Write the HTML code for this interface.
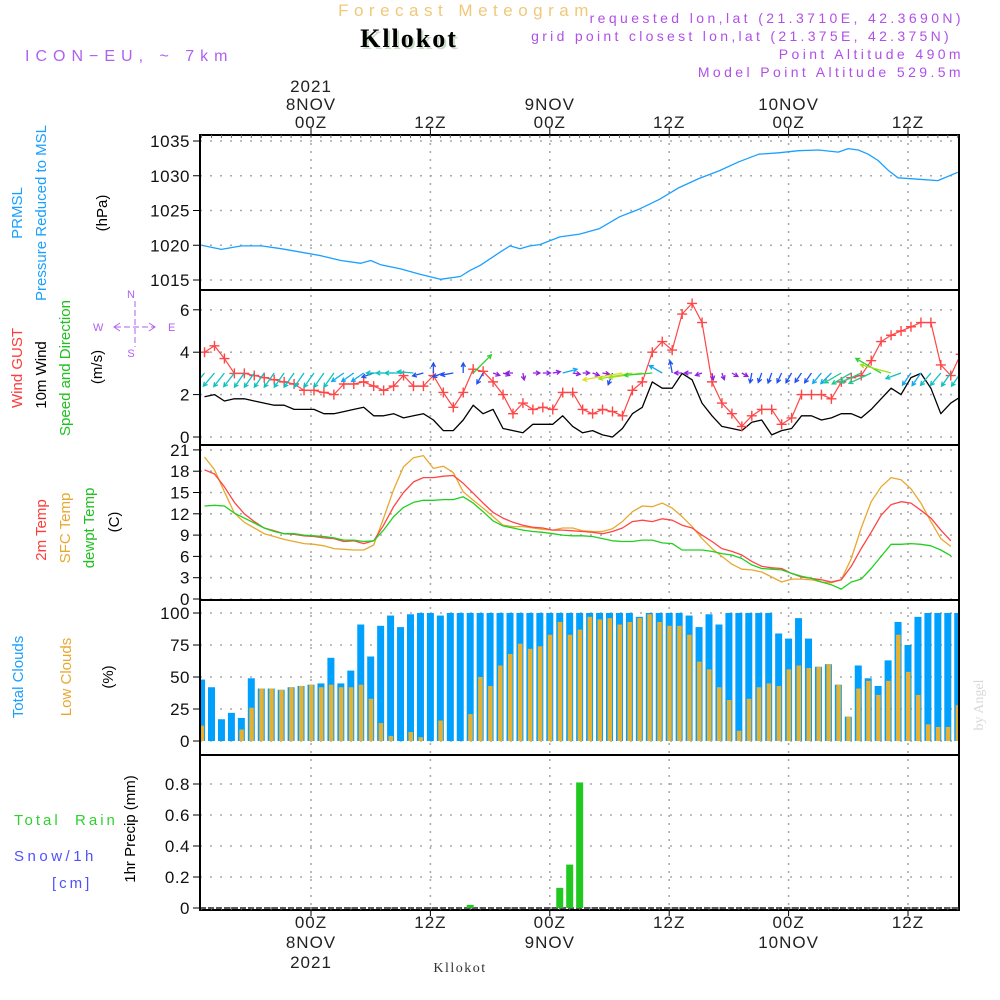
<!DOCTYPE html>
<html><head><meta charset="utf-8"><title>Meteogram Kllokot</title>
<style>
html,body{margin:0;padding:0;background:#fff;width:1000px;height:1000px;overflow:hidden}
svg{display:block}
text{font-family:"Liberation Sans",sans-serif}
</style></head>
<body>
<svg id="chart" width="1000" height="1000" viewBox="0 0 1000 1000" xmlns="http://www.w3.org/2000/svg">
<defs>
<clipPath id="cp"><rect x="200" y="135" width="760" height="775"/></clipPath>
</defs>
<g>
<text x="466" y="16" text-anchor="middle" font-size="17" fill="#f0c878" letter-spacing="5.5">Forecast Meteogram</text>
<text x="411" y="49" text-anchor="middle" font-size="26" font-weight="bold" style="font-family:'Liberation Serif',serif" fill="#c8dcc8" letter-spacing="2">Kllokot</text>
<text x="409" y="47" text-anchor="middle" font-size="26" font-weight="bold" style="font-family:'Liberation Serif',serif" fill="#000" letter-spacing="2">Kllokot</text>
<text x="25" y="61" font-size="16" fill="#b060f0" letter-spacing="6">ICON−EU, ~ 7km</text>
<text x="964" y="23" text-anchor="end" font-size="14" fill="#b050e8" letter-spacing="3.4">requested lon,lat (21.3710E, 42.3690N)</text>
<text x="952" y="41" text-anchor="end" font-size="14" fill="#b050e8" letter-spacing="3.3">grid point closest lon,lat (21.375E, 42.375N)</text>
<text x="964" y="59" text-anchor="end" font-size="14" fill="#b050e8" letter-spacing="3.4">Point Altitude 490m</text>
<text x="964" y="77" text-anchor="end" font-size="14" fill="#b050e8" letter-spacing="3.4">Model Point Altitude 529.5m</text>
</g>
<g id="labels" font-size="15">
<text transform="translate(22,213) rotate(-90)" text-anchor="middle" fill="#1aa0ff">PRMSL</text>
<text transform="translate(46,213) rotate(-90)" text-anchor="middle" fill="#1aa0ff">Pressure Reduced to MSL</text>
<text transform="translate(107,213) rotate(-90)" text-anchor="middle" fill="#000">(hPa)</text>
<text transform="translate(22,368) rotate(-90)" text-anchor="middle" fill="#ff3b3b">Wind GUST</text>
<text transform="translate(46,375) rotate(-90)" text-anchor="middle" fill="#000">10m Wind</text>
<text transform="translate(70,368) rotate(-90)" text-anchor="middle" fill="#20c020">Speed and Direction</text>
<text transform="translate(102,367) rotate(-90)" text-anchor="middle" fill="#000">(m/s)</text>
<g fill="#b060f0" stroke="#b060f0" font-size="11">
<text x="93" y="331" stroke="none">W</text>
<text x="168" y="331" stroke="none">E</text>
<text x="131" y="298" stroke="none" text-anchor="middle">N</text>
<text x="131" y="357" stroke="none" text-anchor="middle">S</text>
<line x1="115" y1="327" x2="155" y2="327" stroke-dasharray="6,3"/>
<line x1="135" y1="301" x2="135" y2="347" stroke-dasharray="6,3"/>
<polyline points="120,323 114,327 120,331" fill="none"/>
<polyline points="149,323 155,327 149,331" fill="none"/>
</g>
<text transform="translate(46,530) rotate(-90)" text-anchor="middle" fill="#ff3b3b">2m Temp</text>
<text transform="translate(70,528) rotate(-90)" text-anchor="middle" fill="#e8a830">SFC Temp</text>
<text transform="translate(94,528) rotate(-90)" text-anchor="middle" fill="#20c020">dewpt Temp</text>
<text transform="translate(119,522) rotate(-90)" text-anchor="middle" fill="#000">(C)</text>
<text transform="translate(23,677) rotate(-90)" text-anchor="middle" fill="#1aa0ff">Total Clouds</text>
<text transform="translate(71,677) rotate(-90)" text-anchor="middle" fill="#e8a830">Low Clouds</text>
<text transform="translate(113,677) rotate(-90)" text-anchor="middle" fill="#000">(%)</text>
<text x="14" y="825" fill="#30d030" letter-spacing="3" xml:space="preserve">Total  Rain</text>
<text x="14" y="861" fill="#5050ff" letter-spacing="3.5">Snow/1h</text>
<text x="52" y="888" fill="#5050ff" letter-spacing="3">[cm]</text>
<text transform="translate(135,829) rotate(-90)" text-anchor="middle" fill="#000">1hr Precip (mm)</text>
<text transform="translate(983,705) rotate(-90)" text-anchor="middle" font-size="14" style="font-family:'Liberation Serif',serif" fill="#d8d8d8">by Angel</text>
<text x="460" y="972" text-anchor="middle" font-size="14" style="font-family:'Liberation Serif',serif" fill="#333" letter-spacing="1.5">Kllokot</text>
</g>
<g id="grid"></g>
<g id="marks" clip-path="url(#cp)"></g>
<g id="frames"></g>
<g id="axes"></g>
</svg>
<script>
// ---- data ----
const timeTickHours = [11, 23, 35, 47, 59, 71];
const timeTickTop = [["2021","8NOV","00Z"],["","","12Z"],["","9NOV","00Z"],["","","12Z"],["","10NOV","00Z"],["","","12Z"]];
const timeTickBottom = [["00Z","8NOV","2021"],["12Z","",""],["00Z","9NOV",""],["12Z","",""],["00Z","10NOV",""],["12Z","",""]];

const pressHours = [0,2,4,6,8,10,12,14,16,17,18,20,22,24,26,27,28,30,31,32,33,34,36,38,40,42,44,46,48,50,52,54,56,58,60,62,64,65,66,67,68,69,70,72,74,76];
const pressVals = [1020,1019.4,1019.9,1019.9,1019.5,1019,1018.5,1017.8,1017.4,1017.8,1017.2,1016.6,1015.8,1015.1,1015.5,1016.4,1017.1,1019.0,1019.9,1019.5,1019.9,1020.1,1021.2,1021.6,1022.4,1024.1,1025.2,1026.6,1028.3,1029.6,1030.7,1032.0,1033.1,1033.3,1033.6,1033.7,1033.4,1033.9,1033.7,1033.1,1032.2,1030.8,1029.7,1029.5,1029.3,1030.5];
const pressTicks = [1015,1020,1025,1030,1035];

const windStartHour = 0.3;
const gustVals = [4.0,4.3,3.7,3.0,3.0,2.9,2.8,2.7,2.6,2.5,2.2,2.2,2.1,2.0,2.5,2.5,2.6,2.4,2.2,2.4,2.9,2.4,2.4,2.9,2.1,1.4,2.1,3.2,3.1,2.6,2.0,1.1,1.6,1.3,1.4,1.3,2.1,2.1,1.3,1.1,
 1.3,1.2,1.0,2.2,2.6,4.0,4.5,4.1,5.8,6.3,5.4,2.6,1.6,1.1,0.5,1.0,1.3,1.3,0.6,0.9,2.0,2.0,2.0,1.8,2.6,2.8,2.9,3.6,4.5,4.8,5.0,5.2,5.4,5.4,3.4,2.9,3.9];
const windVals = [1.9,2.0,1.7,1.8,1.8,1.7,1.6,1.5,1.5,1.3,1.3,1.3,1.1,1.1,1.2,1.3,1.4,1.0,1.0,1.1,0.9,1.0,1.1,0.8,0.3,0.3,0.8,1.5,1.1,1.3,0.4,0.3,0.2,0.6,0.6,0.6,1.0,0.5,0.2,0.3,
 0.1,0.0,0.4,1.1,1.4,2.6,2.3,2.3,3.0,2.7,1.6,1.0,0.5,0.4,0.3,0.7,0.8,0.1,0.3,0.4,1.0,1.0,0.8,0.9,1.1,1.1,0.9,1.3,1.8,2.3,2.0,2.8,3.0,2.3,1.1,1.6,1.9];
// arrow direction (degrees, 0=east, 90=north, direction the arrow points) and magnitude
const windDir = [230,230,232,232,235,235,235,235,235,235,235,235,235,235,215,215,215,200,180,180,180,175,195,90,200,190,90,45,240,-20,
 -20,180,-80,0,0,10,15,-10,0,-20,-10,250,190,190,188,185,150,100,180,180,200,-80,-70,-30,-30,260,250,250,245,240,235,235,230,225,210,210,205,205,150,165,200,235,235,230,230,235,235];
const windMag = [2.0,2.2,2.2,2.2,2.2,2.2,2.2,2.2,2.2,2.2,2.2,2.2,2.2,2.2,1.8,1.8,1.8,1.4,2.2,2.2,2.4,2.0,1.2,1.0,1.2,1.4,1.0,3.6,1.4,0.5,
 0.5,0.5,0.5,0.5,0.6,0.6,1.8,0.6,0.5,0.5,0.5,1.4,6.0,5.0,5.0,4.0,1.8,1.4,0.6,0.6,0.5,0.5,0.5,0.5,0.5,1.0,1.0,1.1,1.1,1.2,1.2,1.3,1.6,1.8,2.6,3.0,3.2,3.4,4.2,4.6,2.0,1.8,1.9,2.0,2.0,2.0,2.0];
const windTicks = [0,2,4,6];

const tempStartHour = 0.3;
const t2mVals = [18.2,17.6,15.8,13.6,12.0,10.9,10.0,9.6,9.2,9.1,8.9,8.8,8.6,8.5,8.1,8.2,7.8,8.2,10.4,13.0,15.0,16.5,17.1,17.1,17.3,17.4,16.3,14.9,13.5,12.2,11.4,10.8,10.4,10.1,10.0,9.7,9.7,9.6,9.5,
 9.4,9.2,9.5,10.0,10.9,11.1,10.9,11.3,11.1,10.4,10.0,9.0,8.1,7.1,6.7,6.2,5.3,4.6,4.4,4.3,3.6,3.1,2.9,2.7,2.4,2.7,4.6,7.1,9.4,11.8,13.3,13.7,13.5,12.5,11.4,9.7,8.2];
const sfcVals = [20.0,18.2,15.1,12.1,10.8,10.0,9.2,8.8,8.4,8.1,7.8,7.7,7.5,7.1,7.0,6.9,6.9,7.6,11.4,15.4,18.6,19.9,20.2,18.4,18.7,17.8,15.1,13.9,12.8,11.6,10.4,10.2,10.2,10.0,9.8,9.7,10.0,10.0,9.6,
 9.5,9.5,9.9,10.9,12.3,13.1,13.0,13.5,12.8,11.6,10.2,8.5,7.1,6.0,4.9,4.2,4.1,3.8,3.1,2.4,2.8,2.8,2.7,2.4,2.3,2.7,5.7,10.0,13.7,15.8,17.1,16.8,15.5,13.5,10.9,8.5,7.4];
const dewVals = [13.1,13.2,13.1,12.1,11.4,10.7,10.0,9.5,9.2,9.2,9.0,8.9,8.8,8.6,8.3,8.3,8.1,8.2,9.7,11.6,12.9,13.6,13.9,13.9,14.0,14.0,14.4,13.5,12.3,11.0,10.3,10.0,9.7,9.5,9.4,9.2,9.0,8.9,8.9,
 8.8,8.5,8.2,8.1,8.1,8.3,8.3,7.9,7.8,6.9,6.9,6.9,6.7,6.4,6.2,5.7,4.8,4.3,4.2,4.1,3.6,3.2,2.9,2.4,2.0,1.4,2.4,2.8,4.3,6.0,7.7,7.7,7.8,7.7,7.5,6.9,6.1];
const tempTicks = [0,3,6,9,12,15,18,21];

const totalCloud = [48,42,17,22,18,49,41,41,40,42,43,44,45,65,45,55,91,66,90,98,89,99,100,100,98,100,100,100,100,100,100,100,100,100,100,100,100,100,100,100,
 100,100,100,100,97,100,100,100,100,98,89,99,91,100,100,100,100,100,84,80,96,80,58,60,44,19,59,49,43,63,93,75,97,100,100,100,100];
const lowCloud = [12,0,0,0,9,26,41,41,40,42,43,44,42,44,42,42,44,33,14,4,0,7,3,0,16,0,0,21,50,43,59,68,76,72,74,83,93,83,87,97,
 95,96,91,93,96,99,93,90,90,83,62,56,42,32,8,33,42,45,43,56,59,57,58,60,44,19,41,47,36,47,83,54,36,13,11,11,28];
const cloudTicks = [0,25,50,75,100];

const rainHours = [27,36,37,38];
const rainVals = [0.02,0.13,0.28,0.81];
const rainTicks = [0,0.2,0.4,0.6,0.8];
const rainTickLabels = ["0","0.2","0.4","0.6","0.8"];

// ---- scales ----
const X0 = 200, X1 = 959;
const xOf = h => 311 + (h - 11) * 9.95;
const yP = v => 141 + (1035 - v) * 6.95;
const yW = v => 437 - v * 21.2;
const yT = v => 599 - v * 7.1;
const yC = v => 741 - v * 1.28;
const yR = v => 908 - v * 155;
const panels = [[135,290],[290,445],[445,600],[600,755],[755,910]];

const NS = "http://www.w3.org/2000/svg";
function mk(tag, attrs, parent){
  const e = document.createElementNS(NS, tag);
  for (const k in attrs) e.setAttribute(k, attrs[k]);
  parent.appendChild(e); return e;
}
const grid = document.getElementById('grid');
const marks = document.getElementById('marks');
const frames = document.getElementById('frames');
const axes = document.getElementById('axes');

timeTickHours.forEach((h, i) => {
  const x = xOf(h);
  const l = mk('line', {x1:x, y1:135, x2:x, y2:910, stroke:'#aaa', 'stroke-width':1.6, 'stroke-dasharray':'2,6'}, grid);
  
  
  timeTickTop[i].forEach((s, j) => {
    if (!s) return;
    const t = mk('text', {x:x, y:92 + j*18, 'text-anchor':'middle', 'font-size':17, fill:'#222', 'letter-spacing':1}, axes);
    t.textContent = s;
    
    
  });
  timeTickBottom[i].forEach((s, j) => {
    if (!s) return;
    const t = mk('text', {x:x, y:928 + j*20, 'text-anchor':'middle', 'font-size':17, fill:'#222', 'letter-spacing':1}, axes);
    t.textContent = s;
    
    
  });
  mk('line', {x1:x, y1:128, x2:x, y2:135, stroke:'#000', 'stroke-width':1}, axes);
  mk('line', {x1:x, y1:910, x2:x, y2:916, stroke:'#000', 'stroke-width':1}, axes);
});
for (let h = 0; h <= 76; h++) {
  const x = xOf(h);
  if (x < X0 || x > X1) continue;
  mk('line', {x1:x, y1:135, x2:x, y2:138, stroke:'#666', 'stroke-width':1}, axes);
  mk('line', {x1:x, y1:907, x2:x, y2:910, stroke:'#666', 'stroke-width':1}, axes);
}

function yAxis(ticks, yFn, labels, name){
  ticks.forEach((v, i) => {
    const y = yFn(v);
    const g = mk('line', {x1:X0, y1:y, x2:X1, y2:y, stroke:'#aaa', 'stroke-width':1.6, 'stroke-dasharray':'2,8'}, grid);
    
    
    mk('line', {x1:193, y1:y, x2:X0, y2:y, stroke:'#000', 'stroke-width':1}, axes);
    const t = mk('text', {x:190, y:y+6, 'text-anchor':'end', 'font-size':17, fill:'#111', 'letter-spacing':0.5}, axes);
    t.textContent = labels ? labels[i] : String(v);
    
    
  });
}
yAxis(pressTicks, yP, null, 'pressure');
yAxis(windTicks, yW, null, 'wind');
yAxis(tempTicks, yT, null, 'temp');
yAxis(cloudTicks, yC, null, 'cloud');
yAxis(rainTicks, yR, rainTickLabels, 'precip');

panels.forEach(p => {
  const r = mk('rect', {x:X0, y:p[0], width:X1-X0, height:p[1]-p[0], fill:'none', stroke:'#000', 'stroke-width':2}, frames);
  
  
});

function line(hours, vals, yFn, color, name, w){
  const pts = vals.map((v, i) => xOf(hours(i)).toFixed(1) + ',' + yFn(v).toFixed(1)).join(' ');
  const pl = mk('polyline', {points:pts, fill:'none', stroke:color, 'stroke-width':w||1.3, 'stroke-linejoin':'round'}, marks);
  
  
}

line(i => pressHours[i], pressVals, yP, '#1aa0ff', 'pressure-line', 1.3);

totalCloud.forEach((v, k) => {
  const x = xOf(k);
  const b = mk('rect', {x:x-3.5, y:yC(v), width:7, height:yC(0)-yC(v), fill:'#00a0ff'}, marks);
  
  
});
lowCloud.forEach((v, k) => {
  const x = xOf(k);
  const b = mk('rect', {x:x-2, y:yC(v), width:4.5, height:yC(0)-yC(v), fill:'#e8b030'}, marks);
  
  
});

mk('line', {x1:X0, y1:yR(0), x2:X1, y2:yR(0), stroke:'#222', 'stroke-width':1.5, 'stroke-dasharray':'6,2'}, marks);
rainVals.forEach((v, i) => {
  const x = xOf(rainHours[i]);
  const b = mk('rect', {x:x-3.5, y:yR(v), width:7, height:yR(0)-yR(v), fill:'#20c820'}, marks);
  
  
});

line(i => tempStartHour + i, sfcVals, yT, '#e8a830', 'sfc-temp-line', 1.3);
line(i => tempStartHour + i, t2mVals, yT, '#ff4545', 't2m-line', 1.3);
line(i => tempStartHour + i, dewVals, yT, '#20d020', 'dewpoint-line', 1.3);

line(i => windStartHour + i, windVals, yW, '#000', 'wind-speed-line', 1.3);
line(i => windStartHour + i, gustVals, yW, '#ff4545', 'gust-line', 1.2);
gustVals.forEach((v, i) => {
  const x = xOf(windStartHour + i), y = yW(v);
  const m = mk('path', {d:`M${x-5},${y}H${x+5}M${x},${y-5}V${y+5}`, stroke:'#ff4545', 'stroke-width':1.4, fill:'none'}, marks);
  
  
});

function magColor(m){
  if (m < 0.8) return '#9020e0';
  if (m < 1.5) return '#2050f0';
  if (m < 2.0) return '#10a8f0';
  if (m < 2.5) return '#10c0c0';
  if (m < 3.5) return '#20c890';
  if (m < 4.5) return '#30d030';
  if (m < 5.5) return '#a0e020';
  return '#e0e020';
}
windDir.forEach((d, i) => {
  const m = windMag[i];
  const x = xOf(windStartHour + i), y = 373;
  const len = 4 + m * 6;
  const a = d * Math.PI / 180;
  const tx = x + Math.cos(a) * len, ty = y - Math.sin(a) * len;
  const hl = 4.5;
  const a1 = a + Math.PI - 0.5, a2 = a + Math.PI + 0.5;
  const c = magColor(m);
  const p = mk('path', {d:`M${x.toFixed(1)},${y}L${tx.toFixed(1)},${ty.toFixed(1)}M${(tx+Math.cos(a1)*hl).toFixed(1)},${(ty-Math.sin(a1)*hl).toFixed(1)}L${tx.toFixed(1)},${ty.toFixed(1)}L${(tx+Math.cos(a2)*hl).toFixed(1)},${(ty-Math.sin(a2)*hl).toFixed(1)}`, stroke:c, 'stroke-width':1.3, fill:'none'}, marks);
  
  
});
</script>
</body></html>
